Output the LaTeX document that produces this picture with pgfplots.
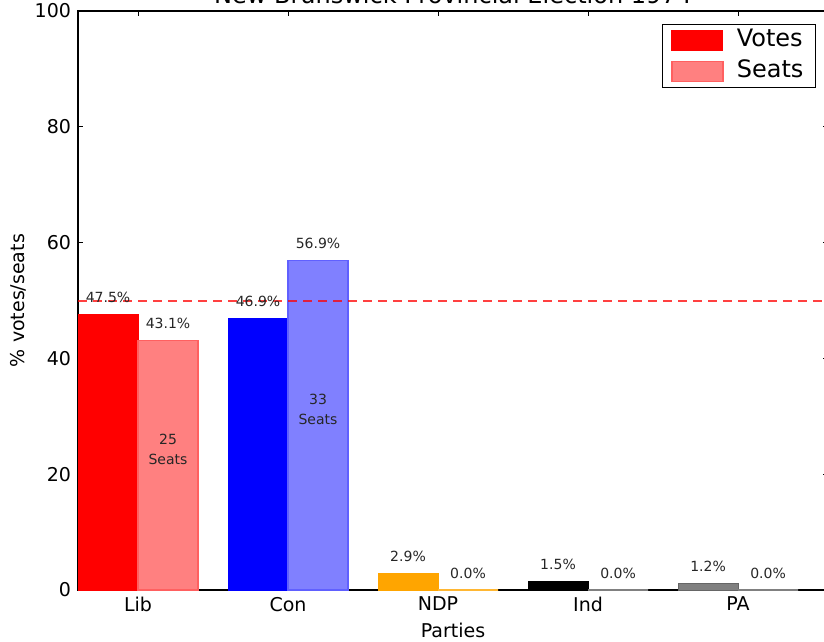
\documentclass[border=0pt]{standalone}
\usepackage{pgfplots}
\pgfplotsset{compat=1.18}
\usepackage{fontspec}
\setmainfont{DejaVu Sans}
\usetikzlibrary{calc}
\definecolor{libv}{HTML}{FF0000}
\definecolor{libs}{HTML}{FF8080}
\definecolor{libe}{HTML}{FF6060}
\definecolor{conv}{HTML}{0000FF}
\definecolor{cons}{HTML}{8080FF}
\definecolor{cone}{HTML}{6060FF}
\definecolor{ndpv}{HTML}{FFA500}
\definecolor{ndps}{HTML}{FFD280}
\definecolor{indv}{HTML}{000000}
\definecolor{inds}{HTML}{808080}
\definecolor{pav}{HTML}{808080}
\definecolor{pas}{HTML}{C0C0C0}
\begin{document}
\begin{tikzpicture}
\begin{axis}[
  scale only axis,
  x=75pt, y=2.895pt,
  xmin=0, xmax=5, ymin=0, ymax=100,
  ybar, bar shift=0pt, bar width=0.4,
  xtick={0.4,1.4,2.4,3.4,4.4},
  xticklabels={Lib,Con,NDP,Ind,PA},
  ytick={0,20,40,60,80,100},
  tick pos=both,
  tick align=inside,
  major tick length=2.5pt,
  tick style={black, line width=0.5pt},
  axis line style={line width=0.6pt},
  tick label style={font=\fontsize{9.5}{11}\selectfont},
  /pgf/number format/assume math mode=true,
  xlabel={Parties},
  ylabel={\% votes/seats},
  every axis x label/.style={at={(axis description cs:0.5,0)}, anchor=center, yshift=-20pt, font=\fontsize{9.5}{11}\selectfont},
  every axis y label/.style={at={(axis description cs:0,0.5)}, anchor=center, xshift=-30pt, rotate=90, font=\fontsize{9.5}{11}\selectfont},
  title={New Brunswick Provincial Election 1974},
  every axis title/.style={at={(axis description cs:0.5,1)}, anchor=base, yshift=3.5pt, font=\fontsize{12}{14}\selectfont},
  legend style={at={(1,1)}, anchor=north east, xshift=-6pt, yshift=-6.5pt, draw=black, line width=0.6pt,
    font=\fontsize{12}{14}\selectfont, inner xsep=2pt, inner ysep=2.5pt, row sep=4.5pt,
    nodes={inner xsep=4pt, inner ysep=0pt, text height=8.5pt, text depth=2.5pt}},
  legend cell align=left,
  vlab/.style={nodes near coords={\pgfmathprintnumber[fixed,fixed zerofill,precision=1]{\pgfplotspointmeta}\%},
    every node near coord/.append style={anchor=base, yshift=6pt, inner sep=0pt, font=\fontsize{7}{8}\selectfont, text=black!85}},
]
% Lib
\addplot[fill=libv, draw=libv, line width=0.5pt, vlab,
  legend image code/.code={\path[draw=none,fill=none] (0pt,-5.5pt) rectangle (31pt,5.5pt);\draw[fill=libv, draw=libv, line width=0.5pt] (2.5pt,-5pt) rectangle (28pt,5pt);}]
  coordinates {(0.2,47.5)};
\addplot[fill=libs, draw=libe, line width=0.9pt, vlab,
  legend image code/.code={\path[draw=none,fill=none] (0pt,-5.5pt) rectangle (31pt,5.5pt);\draw[fill=libs, draw=libe, line width=0.9pt] (2.5pt,-5pt) rectangle (28pt,5pt);}]
  coordinates {(0.6,43.1)};
\legend{Votes,Seats}
% Con
\addplot[fill=conv, draw=conv, line width=0.5pt, vlab, forget plot] coordinates {(1.2,46.9)};
\addplot[fill=cons, draw=cone, line width=0.9pt, vlab, forget plot] coordinates {(1.6,56.9)};
% NDP
\addplot[fill=ndpv, draw=ndpv, line width=0.5pt, vlab, forget plot] coordinates {(2.2,2.9)};
\addplot[fill=ndps, draw=ndpv!80, line width=0.6pt, vlab, forget plot] coordinates {(2.6,0.0)};
% Ind
\addplot[fill=indv, draw=indv, line width=0.5pt, vlab, forget plot] coordinates {(3.2,1.5)};
\addplot[fill=inds, draw=inds, line width=0.6pt, vlab, forget plot] coordinates {(3.6,0.0)};
% PA
\addplot[fill=pav, draw=pav!80!black, line width=0.5pt, vlab, forget plot] coordinates {(4.2,1.2)};
\addplot[fill=pas, draw=pav, line width=0.6pt, vlab, forget plot] coordinates {(4.6,0.0)};
% majority line
\addplot[sharp plot, forget plot, draw=red, draw opacity=0.75, line width=1pt, dash pattern=on 4.5pt off 3pt] coordinates {(0,50) (5,50)};
\node[anchor=south, align=center, inner sep=0pt, font=\fontsize{7}{10}\selectfont, text=black!85] at (axis cs:0.6,21.55) {25\\Seats};
\node[anchor=south, align=center, inner sep=0pt, font=\fontsize{7}{10}\selectfont, text=black!85] at (axis cs:1.6,28.45) {33\\Seats};
\coordinate (O) at (axis cs:0,0);
\coordinate (TR) at (axis cs:4.973,100);
\end{axis}
\pgfresetboundingbox
\path[use as bounding box] ($(O)+(-39pt,-25.5pt)$) rectangle ($(TR)+(0pt,5.5pt)$);
\end{tikzpicture}
\end{document}
